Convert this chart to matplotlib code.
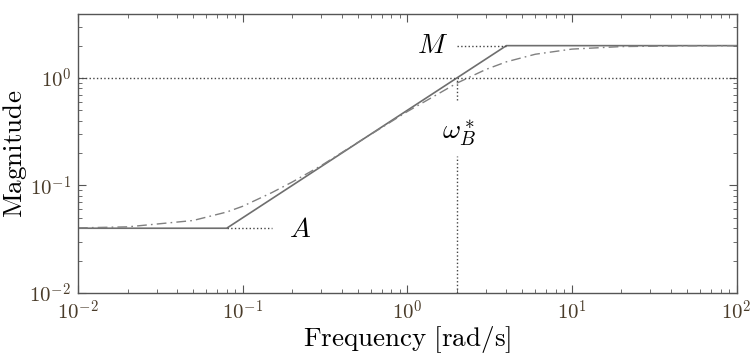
import numpy as np
import matplotlib.pyplot as plt
from matplotlib import rcParams
from matplotlib.ticker import FuncFormatter

rcParams['mathtext.fontset'] = 'cm'
rcParams['font.family'] = 'serif'
rcParams['font.serif'] = ['DejaVu Serif']

# asymptote of 1/|wP| (solid)
w_asym = [0.01, 0.08, 4.0, 100.0]
mag_asym = [0.04, 0.04, 2.0, 2.0]

# exact 1/|wP| (dash-dot)
w_exact = [0.01, 0.02, 0.05, 0.08, 0.1, 0.15, 0.2, 0.3, 0.5, 0.7, 1.0, 1.5,
           2.0, 3.0, 4.0, 6.0, 10.0, 20.0, 50.0, 100.0]
mag_exact = [0.0403, 0.0412, 0.0472, 0.0566, 0.064, 0.0856, 0.1076, 0.153,
             0.251, 0.346, 0.487, 0.695, 0.895, 1.20, 1.414, 1.664, 1.857,
             1.961, 1.994, 1.998]

A = 0.04
M = 2.0
wB = 2.0
gray = '#6e6e6e'
dot = '#444444'

fig = plt.figure(figsize=(7.5, 3.59), dpi=100)
ax = fig.add_axes([0.104, 0.184, 0.878, 0.777])

ax.loglog(w_asym, mag_asym, color=gray, lw=1.2)
ax.loglog(w_exact, mag_exact, color='#808080', lw=1.0, dashes=[7, 3, 1.2, 3])

# guide lines
ax.plot([0.01, 100], [1, 1], ':', color=dot, lw=1.0)
ax.plot([wB, 4.0], [M, M], ':', color=dot, lw=1.0)
ax.plot([0.08, 0.15], [A, A], ':', color=dot, lw=1.0)
ax.plot([wB, wB], [0.01, 0.19], ':', color=dot, lw=1.0)
ax.plot([wB, wB], [0.62, 1.0], ':', color=dot, lw=1.0)

ax.text(1.78, 2.0, r'$M$', fontsize=20, ha='right', va='center')
ax.text(0.19, 0.039, r'$A$', fontsize=20, ha='left', va='center')
ax.text(2.05, 0.31, r'$\omega_B^*$', fontsize=20, ha='center', va='center')

ax.set_xlim(0.01, 100)
ax.set_ylim(0.01, 3.94)
ax.set_xlabel(r'$\mathrm{Frequency\ [rad/s]}$', fontsize=19.5, labelpad=0)
ax.set_ylabel(r'$\mathrm{Magnitude}$', fontsize=19.5, labelpad=0)

fmt = FuncFormatter(lambda v, p: r'$10^{%d}$' % round(np.log10(v)))
ax.xaxis.set_major_formatter(fmt)
ax.yaxis.set_major_formatter(fmt)

ax.tick_params(which='both', direction='in', top=True, right=True,
               colors='#555555', labelcolor='#4a3c2a', labelsize=15)
ax.tick_params(which='major', length=6, pad=5)
ax.tick_params(which='minor', length=3)
for s in ax.spines.values():
    s.set_color('#555555')
    s.set_linewidth(1.0)

fig.savefig('out.png', dpi=100)
